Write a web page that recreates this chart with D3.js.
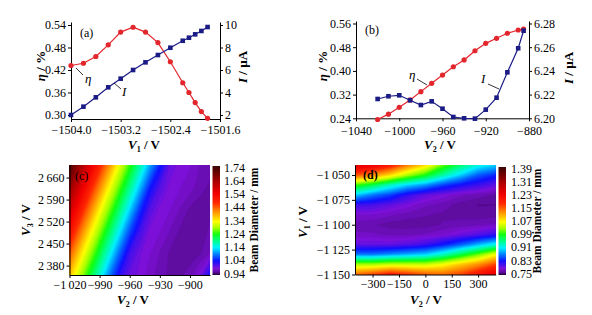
<!DOCTYPE html>
<html><head><meta charset="utf-8">
<script src="https://cdn.jsdelivr.net/npm/d3@7"></script>
<style>
html,body{margin:0;padding:0;background:#fff;}
svg{display:block;}
</style></head><body>
<svg id="chart" width="592" height="315"></svg>
<script>
// ---------- Panel (a) ----------
const aV1 = [-1504.0,-1503.8,-1503.6,-1503.4,-1503.2,-1503.0,-1502.8,-1502.6,-1502.4,-1502.2,-1502.1,-1502.0,-1501.9,-1501.8];
const aEta = [0.432,0.438,0.456,0.487,0.521,0.534,0.521,0.493,0.442,0.386,0.360,0.333,0.309,0.291];
const aI = [2.00,2.74,3.57,4.46,5.23,6.00,6.68,7.33,7.98,8.60,8.87,9.17,9.47,9.82];
const aXTicks = [-1504.0,-1503.2,-1502.4,-1501.6];
const aEtaTicks = [0.30,0.36,0.42,0.48,0.54];
const aITicks = [2,4,6,8,10];

// ---------- Panel (b) ----------
const bV2 = [-1020,-1010,-1000,-990,-980,-970,-960,-950,-940,-930,-920,-910,-900,-890,-885];
const bEta = [0.236,0.254,0.277,0.302,0.330,0.358,0.386,0.414,0.437,0.468,0.493,0.510,0.527,0.538,0.541];
const bI = [6.2163,6.2186,6.2194,6.2152,6.2112,6.2143,6.2081,6.2011,6.2000,6.1997,6.2073,6.2174,6.2388,6.2591,6.2739];
const bXTicks = [-1040,-1000,-960,-920,-880];
const bEtaTicks = [0.24,0.32,0.40,0.48,0.56];
const bITicks = [6.20,6.22,6.24,6.26,6.28];

// ---------- Panel (c) ----------
const cV2 = [-1020,-1010,-1000,-990,-980,-970,-960,-950,-940,-930,-920,-910,-900,-890,-880];
const cV3 = [2700,2630,2560,2490,2420,2350];
const cDiam = [
  [1.72,1.64,1.56,1.48,1.40,1.32,1.25,1.18,1.11,1.05,1.00,0.99,0.985,0.975,0.97],
  [1.65,1.57,1.49,1.41,1.33,1.26,1.19,1.12,1.05,1.01,0.99,0.985,0.98,0.97,0.965],
  [1.58,1.50,1.42,1.34,1.27,1.20,1.13,1.06,1.01,0.99,0.985,0.975,0.965,0.962,0.965],
  [1.51,1.43,1.35,1.28,1.21,1.14,1.07,1.02,0.99,0.985,0.975,0.965,0.962,0.962,0.968],
  [1.44,1.36,1.29,1.22,1.15,1.08,1.02,0.995,0.985,0.975,0.965,0.962,0.962,0.965,0.975],
  [1.37,1.30,1.23,1.16,1.09,1.03,1.00,0.99,0.98,0.97,0.965,0.965,0.97,0.99,1.04]
];
const cXTicks = [-1020,-990,-960,-930,-900];
const cYTicks = [2380,2450,2520,2590,2660];
const cBarTicks = [0.94,1.04,1.14,1.24,1.34,1.44,1.54,1.64,1.74];

// ---------- Panel (d) ----------
const dV2 = [-400,-300,-200,-100,0,100,200,300,400];
const dV1 = [-1040,-1050,-1060,-1070,-1080,-1090,-1100,-1110,-1120,-1130,-1140,-1150];
const dDiam = [
  [1.25,1.23,1.19,1.13,1.08,1.01,0.96,0.92,0.90],
  [1.15,1.12,1.08,1.03,0.99,0.94,0.90,0.86,0.84],
  [1.00,0.97,0.93,0.90,0.88,0.85,0.83,0.815,0.80],
  [0.90,0.87,0.85,0.82,0.80,0.79,0.78,0.775,0.77],
  [0.815,0.81,0.80,0.79,0.78,0.775,0.768,0.764,0.764],
  [0.785,0.785,0.78,0.775,0.772,0.77,0.768,0.766,0.768],
  [0.775,0.772,0.768,0.767,0.768,0.772,0.775,0.777,0.78],
  [0.78,0.78,0.777,0.777,0.78,0.785,0.795,0.805,0.82],
  [0.80,0.80,0.80,0.805,0.815,0.835,0.86,0.89,0.92],
  [0.87,0.87,0.88,0.89,0.90,0.93,0.97,1.01,1.06],
  [1.03,1.03,1.04,1.04,1.04,1.06,1.09,1.12,1.16],
  [1.14,1.16,1.19,1.17,1.15,1.14,1.16,1.20,1.24]
];
const dXTicks = [-300,-150,0,150,300];
const dYTicks = [-1150,-1125,-1100,-1075,-1050];
const dBarTicks = [0.75,0.83,0.91,0.99,1.07,1.15,1.23,1.31,1.39];

// colormap stops (fraction of colorbar range -> colour)
const cmapT = [0,0.025,0.06,0.13,0.2,0.25,0.31,0.375,0.43,0.49,0.54,0.6,0.66,0.75,0.85,0.93,1];
const cmapC = ["#200030","#5c0c9c","#7e10d8","#1010ff","#0090ff","#00f0ff","#00ff90","#10ff10","#a0ff00","#ffff00","#ffc000","#ff7800","#ff2800","#f00000","#b00000","#700000","#3a0505"];

// ---------------------------------------------------------------
const serif = '"Liberation Serif","Times New Roman",serif';
const RED = "#e3262c", BLUE = "#1b1b86";
const svg = d3.select("#chart").attr("font-family", serif);

function styleAxis(g, size) {
  g.selectAll("path,line").attr("stroke", "#000").attr("stroke-width", 1);
  g.selectAll("text").attr("font-size", size || 12).attr("fill", "#000").attr("font-family", serif);
}
function title(x, y, rot, parts, size, anchor) {
  const t = svg.append("text")
    .attr("transform", `translate(${x},${y}) rotate(${rot})`)
    .attr("text-anchor", anchor || "middle")
    .attr("font-size", size).attr("font-weight", "bold").attr("font-family", serif);
  parts.forEach(p => {
    const s = t.append("tspan").text(p.t);
    if (p.i) s.attr("font-style", "italic");
    if (p.sub) s.attr("font-size", size * 0.62).attr("dy", 3);
    if (p.back) s.attr("dy", -3);
  });
  return t;
}
function plain(x, y, txt, size, weight) {
  svg.append("text").attr("x", x).attr("y", y).attr("font-size", size)
    .attr("font-weight", weight || "normal").attr("font-family", serif).text(txt);
}
function leader(x1, y1, x2, y2) {
  svg.append("line").attr("x1", x1).attr("y1", y1).attr("x2", x2).attr("y2", y2)
    .attr("stroke", "#000").attr("stroke-width", 0.8);
}
function drawSeries(xs, ys, sx, sy, color, shape) {
  const g = svg.append("g");
  g.append("path").datum(xs.map((x, i) => [x, ys[i]]))
    .attr("fill", "none").attr("stroke", color).attr("stroke-width", 1.2)
    .attr("d", d3.line().x(d => sx(d[0])).y(d => sy(d[1])));
  if (shape === "circle") {
    g.selectAll("circle").data(xs).join("circle")
      .attr("cx", (d) => sx(d)).attr("cy", (d, i) => sy(ys[i])).attr("r", 2.6).attr("fill", color);
  } else {
    const s = 4.6;
    g.selectAll("rect").data(xs).join("rect")
      .attr("x", d => sx(d) - s / 2).attr("y", (d, i) => sy(ys[i]) - s / 2)
      .attr("width", s).attr("height", s).attr("fill", color);
  }
}

// ===== Panel (a) =====
{
  const L = 71, R = 220, T = 22, B = 119;
  const x = d3.scaleLinear().domain([-1504.0, -1501.6]).range([L, R]);
  const yE = d3.scaleLinear().domain([0.2893, 0.548]).range([B, T]);
  const yI = d3.scaleLinear().domain([1.644, 10.267]).range([B, T]);
  styleAxis(svg.append("g").attr("transform", `translate(0,${B})`)
    .call(d3.axisBottom(x).tickValues(aXTicks).tickFormat(d3.format(".1f")).tickSize(3).tickSizeOuter(0).tickPadding(3)));
  styleAxis(svg.append("g").attr("transform", `translate(${L},0)`)
    .call(d3.axisLeft(yE).tickValues(aEtaTicks).tickFormat(d3.format(".2f")).tickSize(3).tickSizeOuter(0).tickPadding(2)));
  styleAxis(svg.append("g").attr("transform", `translate(${R},0)`)
    .call(d3.axisRight(yI).tickValues(aITicks).tickSize(3).tickSizeOuter(0).tickPadding(2)));
  drawSeries(aV1, aEta, x, yE, RED, "circle");
  drawSeries(aV1, aI, x, yI, BLUE, "square");
  plain(80, 37, "(a)", 12);
  leader(76, 68, 83, 75);
  svg.append("text").attr("x", 85).attr("y", 83).attr("font-size", 13).attr("font-style", "italic").text("η");
  leader(114, 83, 121, 89);
  svg.append("text").attr("x", 122).attr("y", 96).attr("font-size", 13).attr("font-style", "italic").text("I");
  title(45, 66, -90, [{t: "η", i: 1}, {t: " / %"}], 13);
  title(247, 67, -90, [{t: "I", i: 1}, {t: " / µA"}], 13);
  title(144, 149, 0, [{t: "V", i: 1}, {t: "1", sub: 1}, {t: " / V", back: 1}], 13);
}

// ===== Panel (b) =====
{
  const L = 356, R = 529, T = 21, B = 118.3;
  const x = d3.scaleLinear().domain([-1040, -880]).range([L, R]);
  const yE = d3.scaleLinear().domain([0.24, 0.5684]).range([B, T]);
  const yI = d3.scaleLinear().domain([6.20, 6.2821]).range([B, T]);
  styleAxis(svg.append("g").attr("transform", `translate(0,${B})`)
    .call(d3.axisBottom(x).tickValues(bXTicks).tickFormat(d3.format("d")).tickSize(3).tickSizeOuter(0).tickPadding(5)));
  styleAxis(svg.append("g").attr("transform", `translate(${L},0)`)
    .call(d3.axisLeft(yE).tickValues(bEtaTicks).tickFormat(d3.format(".2f")).tickSize(3).tickSizeOuter(0).tickPadding(2)));
  styleAxis(svg.append("g").attr("transform", `translate(${R},0)`)
    .call(d3.axisRight(yI).tickValues(bITicks).tickFormat(d3.format(".2f")).tickSize(3).tickSizeOuter(0).tickPadding(2)));
  drawSeries(bV2, bEta, x, yE, RED, "circle");
  drawSeries(bV2, bI, x, yI, BLUE, "square");
  plain(365, 34, "(b)", 12);
  leader(417, 79, 427, 85);
  svg.append("text").attr("x", 409).attr("y", 79).attr("font-size", 13).attr("font-style", "italic").text("η");
  leader(488, 84, 499, 89);
  svg.append("text").attr("x", 481).attr("y", 83).attr("font-size", 13).attr("font-style", "italic").text("I");
  title(327, 66, -90, [{t: "η", i: 1}, {t: " / %"}], 13);
  title(573, 68, -90, [{t: "I", i: 1}, {t: " / µA"}], 13);
  title(440, 149, 0, [{t: "V", i: 1}, {t: "2", sub: 1}, {t: " / V", back: 1}], 13);
}

// ===== heat-map helper =====
const cmap = d3.scaleLinear().domain(cmapT).range(cmapC).interpolate(d3.interpolateRgb).clamp(true);
const loc = d3.formatLocale({decimal: ".", thousands: "\u2009", grouping: [3], currency: ["", ""], minus: "\u2212"});
const fmtSp = loc.format(",");

function heat(id, xs, ys, grid, xScale, yScale, vmin, vmax) {
  const n = xs.length, m = ys.length;
  const values = grid.flat();
  const dx = xs[1] - xs[0], dy = ys[1] - ys[0];
  const [x0, x1] = xScale.range(), [y1, y0] = yScale.range();
  svg.append("clipPath").attr("id", id).append("rect")
    .attr("x", x0).attr("y", y0).attr("width", x1 - x0).attr("height", y1 - y0);
  const proj = d3.geoTransform({
    point(gx, gy) { this.stream.point(xScale(xs[0] + (gx - 0.5) * dx), yScale(ys[0] + (gy - 0.5) * dy)); }
  });
  const path = d3.geoPath(proj);
  const step = (vmax - vmin) / 90;
  const th = d3.range(vmin, vmax, step);
  const contours = d3.contours().size([n, m]).thresholds(th)(values);
  const col = v => cmap((v - vmin) / (vmax - vmin));
  const g = svg.append("g").attr("clip-path", `url(#${id})`);
  g.append("rect").attr("x", x0).attr("y", y0).attr("width", x1 - x0).attr("height", y1 - y0).attr("fill", col(vmin));
  g.selectAll("path").data(contours).join("path")
    .attr("d", path).attr("fill", d => col(d.value + step / 2)).attr("stroke", d => col(d.value + step / 2)).attr("stroke-width", 0.3);
}
function colorbar(id, x, yTop, yBot, w, scale, ticks, fmt, labelX) {
  const grad = svg.append("defs").append("linearGradient").attr("id", id)
    .attr("x1", 0).attr("y1", 1).attr("x2", 0).attr("y2", 0);
  cmapT.forEach((t, i) => grad.append("stop").attr("offset", t).attr("stop-color", cmapC[i]));
  svg.append("rect").attr("x", x).attr("y", yTop).attr("width", w).attr("height", yBot - yTop).attr("fill", `url(#${id})`);
  svg.append("g").selectAll("text").data(ticks).join("text")
    .attr("x", labelX).attr("y", d => scale(d)).attr("dy", "0.35em")
    .attr("font-size", 12).attr("font-family", serif).text(fmt);
}

// ===== Panel (c) =====
{
  const x = d3.scaleLinear().domain([-1020, -880]).range([69.5, 210]);
  const y = d3.scaleLinear().domain([2350, 2700]).range([275, 165]);
  heat("clipC", cV2, cV3, cDiam, x, y, 0.94, 1.74);
  styleAxis(svg.append("g").attr("transform", `translate(0,275)`)
    .call(d3.axisBottom(x).tickValues(cXTicks).tickFormat(fmtSp).tickSize(3).tickSizeOuter(0).tickPadding(2)));
  styleAxis(svg.append("g").attr("transform", `translate(69.5,0)`)
    .call(d3.axisLeft(y).tickValues(cYTicks).tickFormat(fmtSp).tickSize(3).tickSizeOuter(0).tickPadding(2)));
  const bar = d3.scaleLinear().domain([0.94, 1.74]).range([273.5, 167.5]);
  colorbar("gradC", 212.5, 166, 275, 7.5, bar, cBarTicks, d3.format(".2f"), 224);
  plain(75, 180, "(c)", 12);
  title(30, 220, -90, [{t: "V", i: 1}, {t: "3", sub: 1}, {t: " / V", back: 1}], 13);
  title(133, 304, 0, [{t: "V", i: 1}, {t: "2", sub: 1}, {t: " / V", back: 1}], 13);
  title(258, 220, -90, [{t: "Beam Diameter / mm"}], 11.5);
}

// ===== Panel (d) =====
{
  const x = d3.scaleLinear().domain([-400, 400]).range([355, 495.7]);
  const y = d3.scaleLinear().domain([-1150, -1040]).range([274.5, 165]);
  heat("clipD", dV2, dV1, dDiam, x, y, 0.75, 1.39);
  styleAxis(svg.append("g").attr("transform", `translate(0,274.5)`)
    .call(d3.axisBottom(x).tickValues(dXTicks).tickFormat(d3.format("d")).tickSize(3).tickSizeOuter(0).tickPadding(2)));
  styleAxis(svg.append("g").attr("transform", `translate(355,0)`)
    .call(d3.axisLeft(y).tickValues(dYTicks).tickFormat(fmtSp).tickSize(3).tickSizeOuter(0).tickPadding(2)));
  const bar = d3.scaleLinear().domain([0.75, 1.39]).range([273.5, 168.5]);
  colorbar("gradD", 498.5, 167, 275, 7.5, bar, dBarTicks, d3.format(".2f"), 511);
  plain(363, 179, "(d)", 12, "bold");
  title(307, 222, -90, [{t: "V", i: 1}, {t: "1", sub: 1}, {t: " / V", back: 1}], 13);
  title(426, 304, 0, [{t: "V", i: 1}, {t: "2", sub: 1}, {t: " / V", back: 1}], 13);
  title(541, 221, -90, [{t: "Beam Diameter / mm"}], 11.5);
}
</script>
</body></html>
